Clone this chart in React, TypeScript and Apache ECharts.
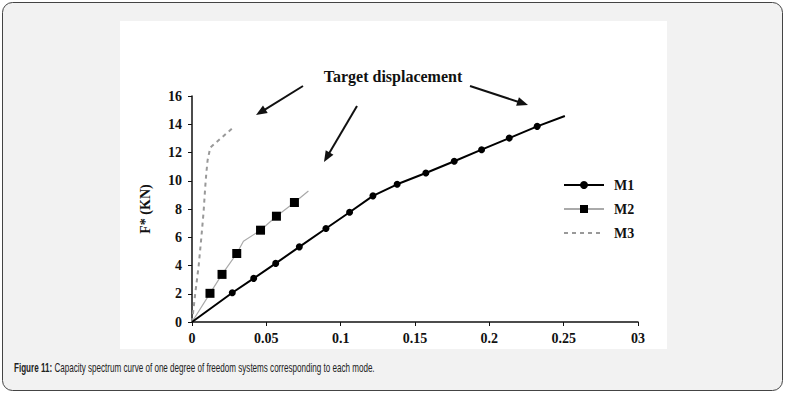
import React, { useEffect, useRef } from "react";
import * as echarts from "echarts";

// ---- data ----
const xTickLabels = ["0", "0.05", "0.1", "0.15", "0.2", "0.25", "03"];
const yTickLabels = ["0", "2", "4", "6", "8", "10", "12", "14", "16"];

const m1X = [0, 0.0271, 0.0415, 0.0563, 0.0722, 0.0901, 0.106, 0.1217, 0.138, 0.1573, 0.1764, 0.1948, 0.2134, 0.2322, 0.2508];
const m1Y = [0, 2.07, 3.09, 4.15, 5.32, 6.62, 7.77, 8.93, 9.75, 10.55, 11.38, 12.2, 13.02, 13.85, 14.58];
const m1Marked = [false, true, true, true, true, true, true, true, true, true, true, true, true, true, false];

const m2X = [0, 0.0121, 0.0202, 0.0301, 0.0346, 0.0461, 0.0568, 0.0689, 0.0783];
const m2Y = [0, 2.03, 3.37, 4.85, 5.72, 6.5, 7.49, 8.46, 9.28];
const m2Marked = [false, true, true, true, false, true, true, true, false];

const m3X = [0, 0.0022, 0.0045, 0.0063, 0.0078, 0.0089, 0.0096, 0.0105, 0.0123, 0.0269];
const m3Y = [0, 2.03, 4.0, 6.0, 7.8, 9.56, 10.5, 11.45, 12.35, 13.69];

const seriesNames = ["M1", "M2", "M3"];
const annotationText = "Target displacement";
const captionBold = "Figure 11:";
const captionRest = " Capacity spectrum curve of one degree of freedom systems corresponding to each mode.";

// annotation arrows (pixel layout): [x1, y1, tipX, tipY]
const ARROWS: number[][] = [
  [303, 86, 256, 115],
  [357, 106, 324, 162],
  [470, 86, 528, 105],
];

const serif = "'Liberation Serif', 'Times New Roman', serif";
const sans = "'Liberation Sans', Arial, sans-serif";

function arrowHead(a: number[]) {
  const [x1, y1, x2, y2] = a;
  const dx = x2 - x1, dy = y2 - y1;
  const len = Math.hypot(dx, dy);
  const ux = dx / len, uy = dy / len;
  const L = 11, W = 4.5;
  const bx = x2 - ux * L, by = y2 - uy * L;
  return {
    line: [x1, y1, bx + ux * 2, by + uy * 2],
    tri: [
      [x2, y2],
      [bx - uy * W, by + ux * W],
      [bx + uy * W, by - ux * W],
    ],
  };
}

function buildData(xs: number[], ys: number[], marked?: boolean[]) {
  return xs.map((x, i) =>
    marked && !marked[i] ? { value: [x, ys[i]], symbol: "none" } : { value: [x, ys[i]] }
  );
}

export default function App() {
  const ref = useRef<HTMLDivElement>(null);
  useEffect(() => {
    const chart = echarts.init(ref.current!, null, { renderer: "svg" });
    const arrowEls: any[] = [];
    ARROWS.forEach((a) => {
      const h = arrowHead(a);
      arrowEls.push({
        type: "line",
        shape: { x1: h.line[0], y1: h.line[1], x2: h.line[2], y2: h.line[3] },
        style: { stroke: "#111", lineWidth: 2 },
        z: 10,
      });
      arrowEls.push({
        type: "polygon",
        shape: { points: h.tri },
        style: { fill: "#111" },
        z: 10,
      });
    });
    chart.setOption({
      animation: false,
      backgroundColor: "#ffffff",
      graphic: [
        {
          type: "rect",
          shape: { x: 2.5, y: 2.5, width: 780, height: 388, r: 10 },
          style: { fill: "#f2f2f2", stroke: "#444", lineWidth: 1 },
          z: -20,
        },
        {
          type: "rect",
          shape: { x: 120, y: 21, width: 547, height: 328 },
          style: { fill: "#ffffff" },
          z: -10,
        },
        {
          type: "text",
          x: 393,
          y: 76,
          style: {
            text: annotationText,
            font: `bold 16px ${serif}`,
            fill: "#111",
            textAlign: "center",
            textVerticalAlign: "middle",
          },
          z: 10,
        },
        ...arrowEls,
        {
          type: "text",
          x: 14,
          y: 368,
          scaleX: 0.673,
          style: {
            text: `{b|${captionBold}}${captionRest}`,
            font: `12px ${sans}`,
            fill: "#222",
            textVerticalAlign: "middle",
            rich: {
              b: { font: `bold 12px ${sans}`, fill: "#222" },
            },
          },
          z: 10,
        },
      ],
      grid: { left: 192, top: 96, width: 446, height: 226, containLabel: false },
      legend: {
        orient: "vertical",
        left: 558,
        top: 173,
        itemWidth: 40,
        itemHeight: 10,
        itemGap: 10,
        data: seriesNames,
        textStyle: { fontFamily: serif, fontWeight: "bold", fontSize: 14, color: "#111", padding: [0, 0, 0, 5] },
      },
      xAxis: {
        type: "value",
        min: 0,
        max: 0.3,
        interval: 0.05,
        axisLine: { lineStyle: { color: "#111", width: 1.5 } },
        axisTick: { show: true, length: 4, lineStyle: { color: "#111" } },
        splitLine: { show: false },
        axisLabel: {
          margin: 9,
          fontFamily: serif,
          fontWeight: "bold",
          fontSize: 14,
          color: "#111",
          formatter: (v: number) => xTickLabels[Math.round(v / 0.05)] ?? "",
        },
      },
      yAxis: {
        type: "value",
        min: 0,
        max: 16,
        interval: 2,
        name: "F* (KN)",
        nameLocation: "middle",
        nameGap: 40,
        nameTextStyle: { fontFamily: serif, fontWeight: "bold", fontSize: 14, color: "#111" },
        axisLine: { show: true, lineStyle: { color: "#111", width: 1.5 } },
        axisTick: { show: true, length: 4, lineStyle: { color: "#111" } },
        splitLine: { show: false },
        axisLabel: {
          margin: 10,
          fontFamily: serif,
          fontWeight: "bold",
          fontSize: 14,
          color: "#111",
          formatter: (v: number) => yTickLabels[Math.round(v / 2)] ?? "",
        },
      },
      series: [
        {
          name: seriesNames[0],
          type: "line",
          data: buildData(m1X, m1Y, m1Marked),
          symbol: "circle",
          symbolSize: 7,
          lineStyle: { color: "#000", width: 2 },
          itemStyle: { color: "#000" },
          z: 5,
        },
        {
          name: seriesNames[1],
          type: "line",
          data: buildData(m2X, m2Y, m2Marked),
          symbol: "rect",
          symbolSize: 9,
          lineStyle: { color: "#aaaaaa", width: 1.2 },
          itemStyle: { color: "#000" },
          z: 4,
        },
        {
          name: seriesNames[2],
          type: "line",
          data: buildData(m3X, m3Y),
          symbol: "none",
          lineStyle: { color: "#999999", width: 2, type: [4, 4] },
          itemStyle: { color: "rgba(0,0,0,0)", borderColor: "rgba(0,0,0,0)" },
          z: 3,
        },
      ],
    });
    return () => chart.dispose();
  }, []);
  return (
    <div style={{ position: "fixed", left: 0, top: 0, width: 786, height: 395, background: "#fff" }}>
      <div ref={ref} style={{ width: 786, height: 395 }} />
    </div>
  );
}
